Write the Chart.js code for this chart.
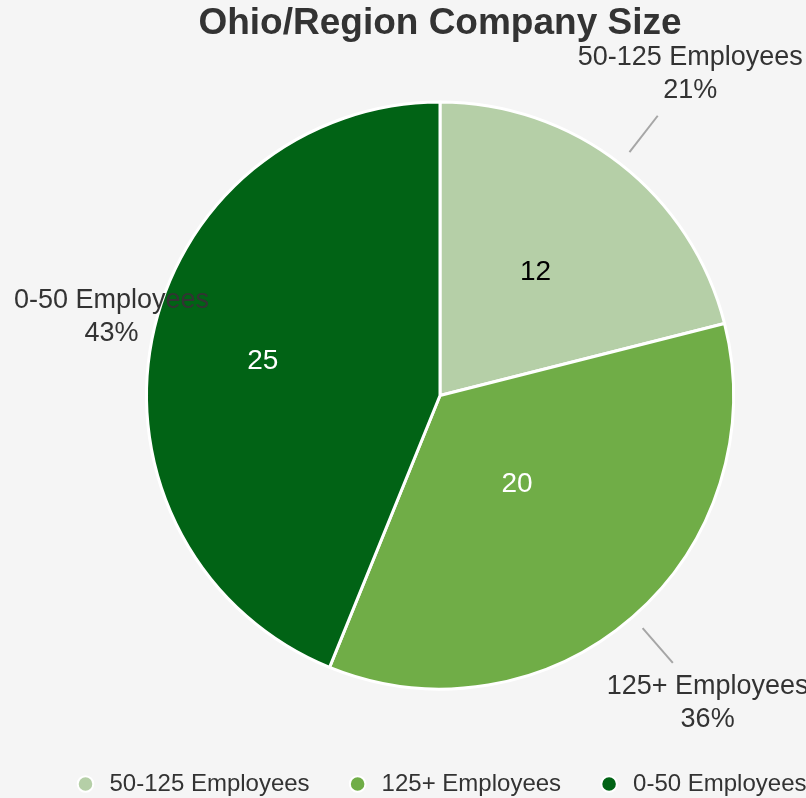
<!DOCTYPE html>
<html>
<head>
<meta charset="utf-8">
<title>Ohio/Region Company Size</title>
<script src="https://cdn.jsdelivr.net/npm/chart.js@4"></script>
<style>
  html, body { margin: 0; padding: 0; background: #f5f5f5; overflow: hidden; }
  #wrap { width: 806px; height: 798px; overflow: hidden; }
  canvas { display: block; }
</style>
</head>
<body>
<div id="wrap"><canvas id="size-chart" width="880" height="806"></canvas></div>
<script>
const categories = ['50-125 Employees', '125+ Employees', '0-50 Employees'];
const companyCounts = [12, 20, 25];
const shareLabels = ['21%', '36%', '43%'];
const sliceColors = ['#b5cfa7', '#70ad47', '#016315'];
const valueColors = ['#000000', '#ffffff', '#ffffff'];

const FONT = '"Liberation Sans", Arial, Helvetica, sans-serif';

// counts inside each slice, name + share outside with a short leader line
const sliceLabels = {
  id: 'sliceLabels',
  afterDatasetsDraw(chart, args, opts) {
    const ctx = chart.ctx;
    const arcs = chart.getDatasetMeta(0).data;
    ctx.save();
    ctx.textAlign = 'center';
    ctx.textBaseline = 'middle';
    arcs.forEach((arc, i) => {
      const {x, y, startAngle, endAngle, outerRadius} =
        arc.getProps(['x', 'y', 'startAngle', 'endAngle', 'outerRadius'], true);
      const mid = (startAngle + endAngle) / 2;
      const cos = Math.cos(mid), sin = Math.sin(mid);

      const vr = outerRadius * opts.valueRadius[i];
      ctx.font = '28px ' + FONT;
      ctx.fillStyle = valueColors[i];
      ctx.fillText(String(companyCounts[i]), x + cos * vr, y + sin * vr);

      ctx.font = '27px ' + FONT;
      const w = Math.max(ctx.measureText(categories[i]).width, ctx.measureText(shareLabels[i]).width);
      let lx = x + cos * (outerRadius + opts.labelGap);
      const ly = y + sin * (outerRadius + opts.labelGap);
      let pushed = false;
      if (lx - w / 2 < opts.edge) {
        lx = opts.edge + w / 2;
        pushed = true;
      }
      if (!pushed) {
        ctx.strokeStyle = '#a6a6a6';
        ctx.lineWidth = 2;
        ctx.beginPath();
        ctx.moveTo(x + cos * (outerRadius + opts.lineFrom), y + sin * (outerRadius + opts.lineFrom));
        ctx.lineTo(x + cos * (outerRadius + opts.lineTo), y + sin * (outerRadius + opts.lineTo));
        ctx.stroke();
      }
      ctx.fillStyle = '#333333';
      ctx.fillText(categories[i], lx, ly - 16.5);
      ctx.fillText(shareLabels[i], lx, ly + 16.5);
    });
    ctx.restore();
  }
};

const ctx = document.getElementById('size-chart').getContext('2d');
new Chart(ctx, {
  type: 'pie',
  data: {
    labels: categories,
    datasets: [{
      data: companyCounts,
      backgroundColor: sliceColors,
      borderColor: '#ffffff',
      borderWidth: 3,
      radius: 293.5
    }]
  },
  options: {
    responsive: false,
    devicePixelRatio: 1,
    animation: false,
    layout: { padding: 0 },
    plugins: {
      title: {
        display: true,
        text: 'Ohio/Region Company Size',
        color: '#333333',
        font: { family: FONT, size: 37, weight: 'bold' },
        padding: { top: 2, bottom: 8.6 }
      },
      legend: {
        position: 'bottom',
        labels: {
          color: '#333333',
          font: { family: FONT, size: 24 },
          usePointStyle: true,
          pointStyle: 'circle',
          boxHeight: 11,
          padding: 36,
          generateLabels(chart) {
            const items = Chart.overrides.doughnut.plugins.legend.labels.generateLabels(chart);
            return items.map(it => Object.assign(it, { lineWidth: 2 }));
          }
        }
      },
      tooltip: { enabled: false },
      sliceLabels: {
        valueRadius: [0.53, 0.4, 0.615],
        labelGap: 114,
        lineFrom: 15,
        lineTo: 61,
        edge: 14
      }
    }
  },
  plugins: [sliceLabels]
});
</script>
</body>
</html>
